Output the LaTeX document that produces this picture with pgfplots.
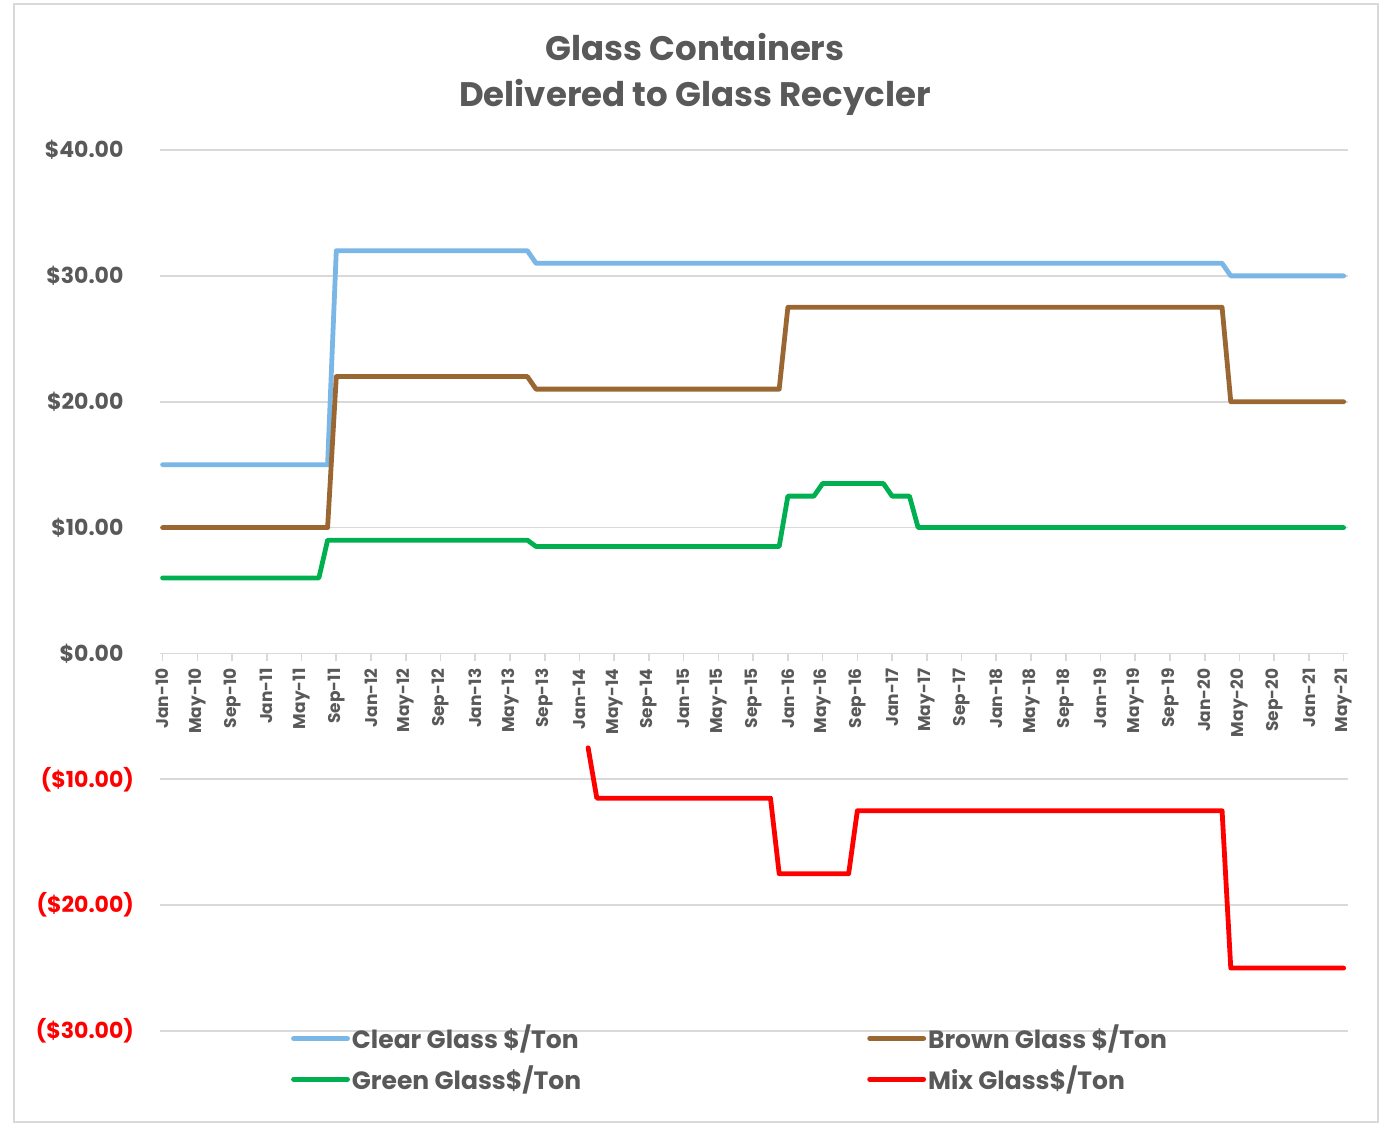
\documentclass[border=0pt]{standalone}
\usepackage{fontspec}
\setmainfont{Poppins}
\usepackage{pgfplots}
\pgfplotsset{compat=1.18}
\definecolor{txt}{HTML}{595959}
\definecolor{clearc}{HTML}{7AB6E6}
\definecolor{brownc}{HTML}{9A6733}
\definecolor{greenc}{HTML}{00B050}
\definecolor{mixc}{HTML}{FF0000}
\definecolor{gridc}{HTML}{D9D9D9}
\begin{document}
\begin{tikzpicture}[x=1pt,y=1pt]
\path (0,0) rectangle (694,563);
\draw[gridc, line width=0.8pt] (7,2) rectangle (689,561);
\node[align=center, font=\fontsize{17}{23}\selectfont\bfseries, text=txt] at (347.5,526) {Glass Containers\\Delivered to Glass Recycler};
\begin{axis}[
  at={(80pt,47.5pt)}, anchor=south west,
  scale only axis, width=594pt, height=440.5pt,
  xmin=-0.3, xmax=136.5, ymin=-30, ymax=40,
  axis x line*=middle, axis y line*=left,
  y axis line style={draw=none},
  x axis line style={draw=gridc, line width=0.8pt},
  ytick={-30,-20,-10,0,10,20,30,40},
  yticklabels={{\textcolor{mixc}{(\$30.00)}},{\textcolor{mixc}{(\$20.00)}},{\textcolor{mixc}{(\$10.00)}},{\$0.00\phantom{)}},{\$10.00\phantom{)}},{\$20.00\phantom{)}},{\$30.00\phantom{)}},{\$40.00\phantom{)}}},
  yticklabel style={anchor=east, xshift=-5.5pt, font=\fontsize{11}{13}\selectfont\bfseries, text=txt},
  ymajorgrids, grid style={gridc, line width=0.8pt},
  ytick style={draw=none},
  xtick={0,4,...,136},
  xticklabels={Jan-10,May-10,Sep-10,Jan-11,May-11,Sep-11,Jan-12,May-12,Sep-12,Jan-13,May-13,Sep-13,Jan-14,May-14,Sep-14,Jan-15,May-15,Sep-15,Jan-16,May-16,Sep-16,Jan-17,May-17,Sep-17,Jan-18,May-18,Sep-18,Jan-19,May-19,Sep-19,Jan-20,May-20,Sep-20,Jan-21,May-21},
  xticklabel style={rotate=90, anchor=east, font=\fontsize{8.5}{10}\selectfont\bfseries, text=txt},
  xtick style={draw=gridc, line width=0.8pt},
  tick align=outside, major tick length=4pt,
  legend columns=2,
  legend cell align=left,
  legend style={at={(0.105,0.014)}, anchor=north west, draw=none, fill=none,
    font=\fontsize{12.5}{14}\selectfont\bfseries, text=txt,
    nodes={inner sep=1pt},
    row sep=5pt,
    /tikz/every even column/.append style={column sep=142pt}},
  legend image code/.code={\draw[#1, line cap=round] (0pt,0pt) -- (27pt,0pt);},
  every axis plot/.append style={line width=2.4pt, line cap=round, line join=round},
]
\addplot[clearc] coordinates {(0,15) (19,15) (20,32) (42,32) (43,31) (122,31) (123,30) (136,30)};
\addlegendentry{Clear Glass \$/Ton}
\addplot[brownc] coordinates {(0,10) (19,10) (20,22) (42,22) (43,21) (71,21) (72,27.5) (122,27.5) (123,20) (136,20)};
\addlegendentry{Brown Glass \$/Ton}
\addplot[greenc] coordinates {(0,6) (18,6) (19,9) (42,9) (43,8.5) (71,8.5) (72,12.5) (75,12.5) (76,13.5) (83,13.5) (84,12.5) (86,12.5) (87,10) (136,10)};
\addlegendentry{Green Glass\$/Ton}
\addplot[mixc] coordinates {(49,-7.5) (50,-11.5) (70,-11.5) (71,-17.5) (79,-17.5) (80,-12.5) (122,-12.5) (123,-25) (136,-25)};
\addlegendentry{Mix Glass\$/Ton}
\end{axis}
\end{tikzpicture}
\end{document}
